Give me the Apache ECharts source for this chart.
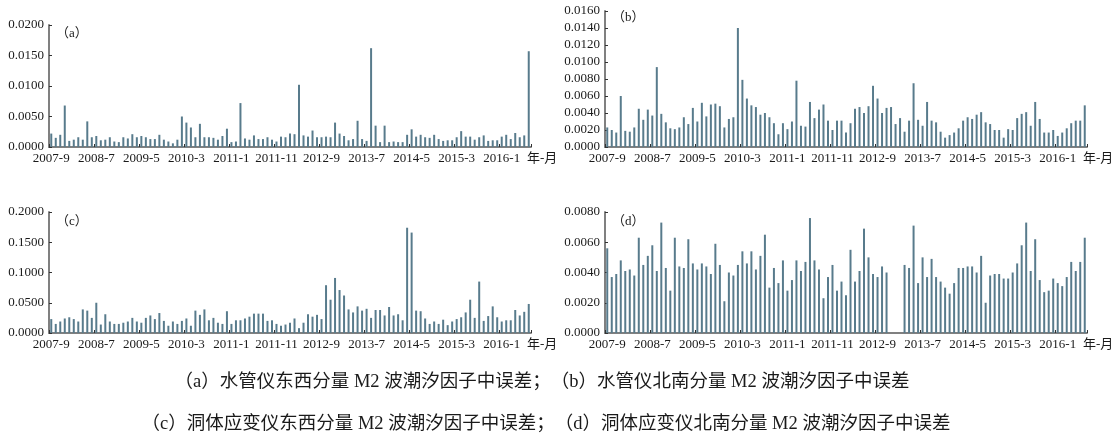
<!DOCTYPE html>
<html>
<head>
<meta charset="utf-8">
<script src="https://cdn.jsdelivr.net/npm/echarts@6/dist/echarts.min.js"></script>
<style>
  html, body { margin: 0; padding: 0; background: #fff; }
  #main { width: 1117px; height: 437px; }
</style>
</head>
<body>
<div id="main"></div>
<script>
// 月份 2007-9 ~ 2016-7
var months = [
  '2007-9','2007-10','2007-11','2007-12',
  '2008-1','2008-2','2008-3','2008-4','2008-5','2008-6','2008-7','2008-8','2008-9','2008-10','2008-11','2008-12',
  '2009-1','2009-2','2009-3','2009-4','2009-5','2009-6','2009-7','2009-8','2009-9','2009-10','2009-11','2009-12',
  '2010-1','2010-2','2010-3','2010-4','2010-5','2010-6','2010-7','2010-8','2010-9','2010-10','2010-11','2010-12',
  '2011-1','2011-2','2011-3','2011-4','2011-5','2011-6','2011-7','2011-8','2011-9','2011-10','2011-11','2011-12',
  '2012-1','2012-2','2012-3','2012-4','2012-5','2012-6','2012-7','2012-8','2012-9','2012-10','2012-11','2012-12',
  '2013-1','2013-2','2013-3','2013-4','2013-5','2013-6','2013-7','2013-8','2013-9','2013-10','2013-11','2013-12',
  '2014-1','2014-2','2014-3','2014-4','2014-5','2014-6','2014-7','2014-8','2014-9','2014-10','2014-11','2014-12',
  '2015-1','2015-2','2015-3','2015-4','2015-5','2015-6','2015-7','2015-8','2015-9','2015-10','2015-11','2015-12',
  '2016-1','2016-2','2016-3','2016-4','2016-5','2016-6','2016-7'
];

// (a) 水管仪东西分量
var waterEW = [
  0.0022,0.0015,0.0020,0.0068,0.0010,0.0012,0.0016,0.0012,0.0042,0.0016,
  0.0018,0.0011,0.0012,0.0016,0.0009,0.0008,0.0016,0.0014,0.0021,0.0016,
  0.0018,0.0016,0.0013,0.0013,0.0020,0.0012,0.0009,0.0006,0.0012,0.0050,
  0.0040,0.0032,0.0016,0.0038,0.0016,0.0016,0.0015,0.0012,0.0018,0.0030,
  0.0008,0.0009,0.0072,0.0014,0.0012,0.0019,0.0013,0.0013,0.0016,0.0012,
  0.0009,0.0017,0.0016,0.0022,0.0021,0.0102,0.0019,0.0017,0.0027,0.0016,
  0.0016,0.0017,0.0016,0.0040,0.0022,0.0018,0.0011,0.0013,0.0043,0.0013,
  0.0010,0.0162,0.0035,0.0008,0.0035,0.0008,0.0009,0.0008,0.0008,0.0020,
  0.0029,0.0017,0.0020,0.0016,0.0015,0.0020,0.0013,0.0010,0.0011,0.0011,
  0.0016,0.0026,0.0017,0.0017,0.0012,0.0016,0.0019,0.0010,0.0011,0.0011,
  0.0017,0.0020,0.0013,0.0023,0.0016,0.0019,0.0157
];

// (b) 水管仪北南分量
var waterNS = [
  0.0023,0.0020,0.0017,0.0060,0.0019,0.0018,0.0023,0.0045,0.0032,0.0044,
  0.0037,0.0094,0.0039,0.0029,0.0022,0.0021,0.0023,0.0035,0.0027,0.0046,
  0.0030,0.0052,0.0036,0.0050,0.0051,0.0048,0.0023,0.0033,0.0035,0.0140,
  0.0079,0.0057,0.0049,0.0047,0.0038,0.0040,0.0035,0.0028,0.0015,0.0028,
  0.0021,0.0030,0.0078,0.0025,0.0024,0.0053,0.0034,0.0044,0.0050,0.0031,
  0.0020,0.0031,0.0031,0.0017,0.0028,0.0045,0.0047,0.0040,0.0048,0.0072,
  0.0057,0.0040,0.0046,0.0047,0.0027,0.0034,0.0018,0.0031,0.0075,0.0032,
  0.0025,0.0053,0.0031,0.0029,0.0018,0.0011,0.0014,0.0017,0.0022,0.0031,
  0.0035,0.0033,0.0038,0.0041,0.0029,0.0027,0.0020,0.0020,0.0011,0.0021,
  0.0020,0.0034,0.0039,0.0041,0.0025,0.0053,0.0033,0.0017,0.0017,0.0020,
  0.0013,0.0017,0.0022,0.0028,0.0031,0.0031,0.0049
];

// (c) 洞体应变仪东西分量
var caveEW = [
  0.023,0.015,0.019,0.024,0.026,0.023,0.019,0.039,0.037,0.025,
  0.050,0.014,0.031,0.019,0.015,0.015,0.017,0.019,0.025,0.019,
  0.017,0.025,0.029,0.023,0.033,0.020,0.012,0.019,0.015,0.020,
  0.024,0.012,0.037,0.030,0.039,0.021,0.025,0.017,0.015,0.036,
  0.015,0.021,0.021,0.024,0.027,0.032,0.032,0.032,0.020,0.021,
  0.015,0.012,0.014,0.017,0.024,0.008,0.017,0.031,0.027,0.030,
  0.023,0.079,0.055,0.091,0.071,0.062,0.039,0.034,0.044,0.037,
  0.040,0.025,0.038,0.038,0.029,0.043,0.029,0.031,0.021,0.174,
  0.166,0.037,0.036,0.024,0.015,0.019,0.015,0.022,0.013,0.019,
  0.023,0.026,0.034,0.055,0.025,0.085,0.020,0.028,0.044,0.026,
  0.019,0.021,0.021,0.038,0.029,0.035,0.048
];

// (d) 洞体应变仪北南分量 ('-' 为缺测)
var caveNS = [
  0.0056,0.0037,0.0039,0.0048,0.0041,0.0042,0.0038,0.0063,0.0045,0.0051,
  0.0058,0.0041,0.0073,0.0043,0.0028,0.0063,0.0044,0.0043,0.0062,0.0046,
  0.0042,0.0046,0.0044,0.0039,0.0059,0.0045,0.0021,0.0040,0.0038,0.0045,
  0.0054,0.0046,0.0054,0.0042,0.0051,0.0065,0.0030,0.0043,0.0033,0.0048,
  0.0028,0.0035,0.0048,0.0041,0.0047,0.0076,0.0048,0.0042,0.0023,0.0037,
  0.0045,0.0028,0.0034,0.0025,0.0055,0.0034,0.0041,0.0069,0.0050,0.0039,
  0.0037,0.0044,0.0040,'-','-','-',0.0045,0.0043,0.0071,0.0033,
  0.0050,0.0037,0.0049,0.0037,0.0034,0.0030,0.0026,0.0033,0.0043,0.0043,
  0.0044,0.0044,0.0040,0.0051,0.0020,0.0038,0.0039,0.0039,0.0036,0.0036,
  0.0040,0.0046,0.0058,0.0073,0.0041,0.0062,0.0035,0.0027,0.0028,0.0036,
  0.0033,0.0031,0.0037,0.0047,0.0041,0.0047,0.0063
];

var panelTags = ['（a）', '（b）', '（c）', '（d）'];
var yMax = [0.02, 0.016, 0.2, 0.008];
var yStep = [0.005, 0.002, 0.05, 0.002];
var captions = [
  '（a）水管仪东西分量 M2 波潮汐因子中误差；（b）水管仪北南分量 M2 波潮汐因子中误差',
  '（c）洞体应变仪东西分量 M2 波潮汐因子中误差；（d）洞体应变仪北南分量 M2 波潮汐因子中误差'
];

var seriesData = [waterEW, waterNS, caveEW, caveNS];
var serif = "'Liberation Serif', 'Noto Sans CJK SC', serif";
var barColor = '#587b8c';

var grids = [
  {left: 49, top: 25, width: 482, height: 122},
  {left: 605, top: 11, width: 482, height: 136},
  {left: 49, top: 212, width: 482, height: 121},
  {left: 605, top: 212, width: 482, height: 121}
];
var tagPos = [[56, 27], [612, 11], [56, 215], [612, 215]];

var myChart = echarts.init(document.getElementById('main'));

var xAxes = [], yAxes = [], series = [], titles = [];
for (var i = 0; i < 4; i++) {
  xAxes.push({
    type: 'category',
    gridIndex: i,
    data: months,
    name: '年-月',
    nameLocation: 'end',
    nameGap: -4,
    nameTextStyle: {
      fontFamily: serif, fontSize: 13, color: '#1a1a1a',
      verticalAlign: 'top', padding: [5, 0, 0, 0]
    },
    axisLine: {lineStyle: {color: '#808080', width: 2}},
    axisTick: {show: true, inside: true, length: 3, interval: 9, lineStyle: {color: '#333'}},
    axisLabel: {interval: 9, margin: 5, fontFamily: serif, fontSize: 13, color: '#1a1a1a'},
    splitLine: {show: false}
  });
  yAxes.push({
    type: 'value',
    gridIndex: i,
    min: 0,
    max: yMax[i],
    interval: yStep[i],
    axisLine: {show: true, lineStyle: {color: '#808080', width: 2}},
    axisTick: {show: true, inside: true, length: 3, lineStyle: {color: '#333'}},
    axisLabel: {
      margin: 5, fontFamily: serif, fontSize: 13, color: '#1a1a1a',
      formatter: function (v) { return v.toFixed(4); }
    },
    splitLine: {show: false}
  });
  series.push({
    type: 'bar',
    xAxisIndex: i,
    yAxisIndex: i,
    data: seriesData[i],
    barWidth: 2,
    itemStyle: {color: barColor},
    silent: true
  });
  titles.push({
    text: panelTags[i],
    left: tagPos[i][0],
    top: tagPos[i][1],
    padding: 0,
    textStyle: {fontFamily: serif, fontSize: 13, fontWeight: 'normal', color: '#1a1a1a'}
  });
}

option = {
  animation: false,
  title: titles,
  grid: grids,
  xAxis: xAxes,
  yAxis: yAxes,
  series: series,
  graphic: [
    {type: 'text', x: 542, y: 382, style: {text: captions[0], font: '18.5px ' + serif, fill: '#1a1a1a', align: 'center', verticalAlign: 'middle'}},
    {type: 'text', x: 546, y: 424, style: {text: captions[1], font: '18.5px ' + serif, fill: '#1a1a1a', align: 'center', verticalAlign: 'middle'}}
  ]
};
myChart.setOption(option);
</script>
</body>
</html>
